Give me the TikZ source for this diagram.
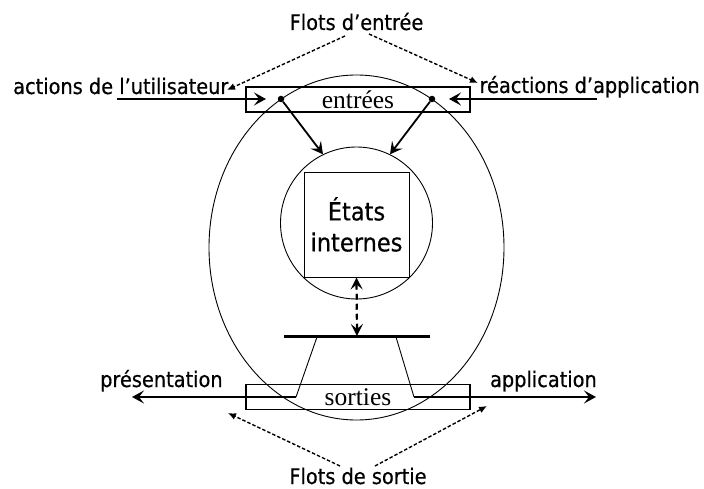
\documentclass[tikz,border=0pt]{standalone}
\usepackage{fontspec}
\setmainfont{Liberation Serif}
\IfFontExistsTF{DejaVu Sans Condensed}{\newfontfamily\labfont[FakeBold=0.5]{DejaVu Sans Condensed}}{\newfontfamily\labfont{Liberation Sans}}
\usetikzlibrary{arrows.meta}
\begin{document}
\begin{tikzpicture}[x=1pt,y=-1pt,
  lbl/.style={font=\labfont\fontsize{21.5}{26}\selectfont, inner sep=0pt},
  iobox/.style={draw, line width=1.1pt, minimum width=224pt, minimum height=25pt, inner sep=0pt, font=\fontsize{25.5}{30}\selectfont},
  thinline/.style={line width=0.9pt},
  flow/.style={line width=1.8pt, -{Stealth[length=12pt,width=13pt,inset=5pt]}},
  hint/.style={line width=1.4pt, dash pattern=on 3.5pt off 2pt, -{Latex[length=8pt,width=7pt]}},
  dot/.style={circle, fill, inner sep=0pt, minimum size=6.5pt}
]
\useasboundingbox (0,0) rectangle (704,489);
% outer ellipse and inner circle
\draw[thinline] (356.5,247.5) ellipse [x radius=147.5pt, y radius=172.5pt];
\node[circle, draw, thinline, minimum size=152pt, inner sep=0pt] (inner) at (356.5,223) {};
\node[draw, thinline, minimum size=105pt, inner sep=0pt, align=center,
      font=\labfont\fontsize{25}{31}\selectfont] (etats) at (356.5,224.5) {États\\internes};
% boxes
\node[iobox] (entrees) at (358,99.5) {entrées};
\node[iobox] (sorties) at (358,397) {sorties};
% labels
\node[lbl, anchor=base] (fe) at (356.5,30) {Flots d’entrée};
\node[lbl, anchor=base west] (au) at (13,94) {actions de l’utilisateur};
\node[lbl, anchor=base east] (ra) at (700,93) {réactions d’application};
\node[lbl, anchor=base west] (pr) at (100,387) {présentation};
\node[lbl, anchor=base east] (ap) at (597,387) {application};
\node[lbl, anchor=base] (fs) at (358,484) {Flots de sortie};
% coordinates
\node[dot] (d1) at (281,99) {};
\node[dot] (d2) at (432,99) {};
\coordinate (inL) at (117,99);
\coordinate (inR) at (597,99);
\coordinate (tipL) at (266,99);
\coordinate (tipR) at (449,99);
\coordinate (b1) at (284,336);
\coordinate (b2) at (430,336);
\coordinate (bm) at (357,336);
\coordinate (s1) at (317,337);
\coordinate (s2) at (396,337);
\coordinate (j1) at (296,397);
\coordinate (j2) at (414,397);
\coordinate (outL) at (132,397);
\coordinate (outR) at (596,397);
\coordinate (fe1) at (345,36);
\coordinate (fe2) at (369,34);
\coordinate (feL) at (227,90);
\coordinate (feR) at (478,83);
\coordinate (fs1) at (340,466);
\coordinate (fs2) at (375,466);
\coordinate (fsL) at (228,413);
\coordinate (fsR) at (487,406);
% input arrows
\draw[flow] (inL) -- (tipL);
\draw[flow] (inR) -- (tipR);
\draw[flow] (d1) -- (inner.116);
\draw[flow] (d2) -- (inner.64);
% output part
\draw[line width=3pt] (b1) -- (b2);
\draw[line width=2.2pt, dash pattern=on 6pt off 4pt, {Stealth[length=12pt,width=12pt,inset=5pt]}-{Stealth[length=12pt,width=12pt,inset=5pt]}] (etats.south) -- (bm);
\draw[thinline] (s1) -- (j1);
\draw[thinline] (s2) -- (j2);
\draw[flow] (j1) -- (outL);
\draw[flow] (j2) -- (outR);
% dashed hints
\draw[hint] (fe1) -- (feL);
\draw[hint] (fe2) -- (feR);
\draw[hint] (fs1) -- (fsL);
\draw[hint] (fs2) -- (fsR);
\end{tikzpicture}
\end{document}
